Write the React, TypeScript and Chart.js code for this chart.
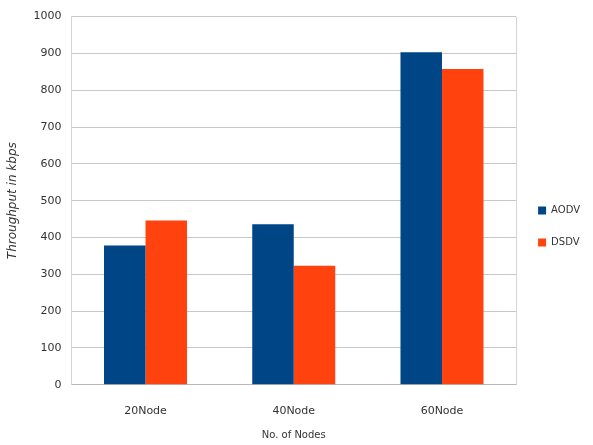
import React, { useEffect, useRef } from "react";
import { Chart, registerables } from "chart.js";

Chart.register(...registerables);

const categories = ["20Node", "40Node", "60Node"];
const aodvValues = [378, 436, 903];
const dsdvValues = [446, 323, 858];
const yTicks = [0, 100, 200, 300, 400, 500, 600, 700, 800, 900, 1000];

const frameLines = {
  id: "frameLines",
  beforeDatasetsDraw(chart: any) {
    const { ctx, chartArea } = chart;
    ctx.save();
    ctx.strokeStyle = "#d4d4d4";
    ctx.lineWidth = 1;
    ctx.beginPath();
    ctx.moveTo(Math.round(chartArea.right) + 0.5, chartArea.top);
    ctx.lineTo(Math.round(chartArea.right) + 0.5, chartArea.bottom);
    ctx.stroke();
    ctx.restore();
  },
};

export default function App() {
  const ref = useRef<HTMLCanvasElement>(null);
  useEffect(() => {
    document.body.style.margin = "0";
    const chart = new Chart(ref.current!, {
      type: "bar",
      data: {
        labels: categories,
        datasets: [
          { label: "AODV", data: aodvValues, backgroundColor: "#004586", borderWidth: 0 },
          { label: "DSDV", data: dsdvValues, backgroundColor: "#ff420e", borderWidth: 0 },
        ],
      },
      plugins: [frameLines],
      options: {
        animation: false,
        responsive: false,
        maintainAspectRatio: false,
        layout: { padding: { top: 8, right: 3, left: 6, bottom: 0 } },
        datasets: { bar: { categoryPercentage: 0.56, barPercentage: 1 } },
        plugins: {
          legend: {
            position: "right",
            labels: {
              boxWidth: 8,
              boxHeight: 8,
              padding: 22,
              color: "#333",
              font: { family: "DejaVu Sans", size: 10 },
            },
          },
          tooltip: { enabled: false },
        },
        scales: {
          x: {
            grid: { display: false },
            border: { color: "#b8b8b8" },
            ticks: { color: "#333", font: { family: "DejaVu Sans", size: 11 }, padding: 12 },
            title: {
              display: true,
              text: "No. of Nodes",
              color: "#333",
              font: { family: "DejaVu Sans", size: 10, lineHeight: 1 },
              padding: { top: 0, bottom: 5 },
            },
          },
          y: {
            min: 0,
            max: 1000,
            afterBuildTicks(axis: any) {
              axis.ticks = yTicks.map((v) => ({ value: v }));
            },
            grid: { color: "#c8c8c8", drawTicks: false },
            border: { color: "#d4d4d4" },
            ticks: {
              color: "#333",
              font: { family: "DejaVu Sans", size: 11 },
              padding: 10,
              callback: (v: any) => String(v),
            },
            title: {
              display: true,
              text: "Throughput in kbps",
              color: "#333",
              font: { family: "DejaVu Sans", size: 12, style: "italic" },
              padding: { top: 0, bottom: 3 },
            },
          },
        },
      },
    });
    return () => chart.destroy();
  }, []);
  return <canvas ref={ref} width={593} height={445} style={{ display: "block" }} />;
}
